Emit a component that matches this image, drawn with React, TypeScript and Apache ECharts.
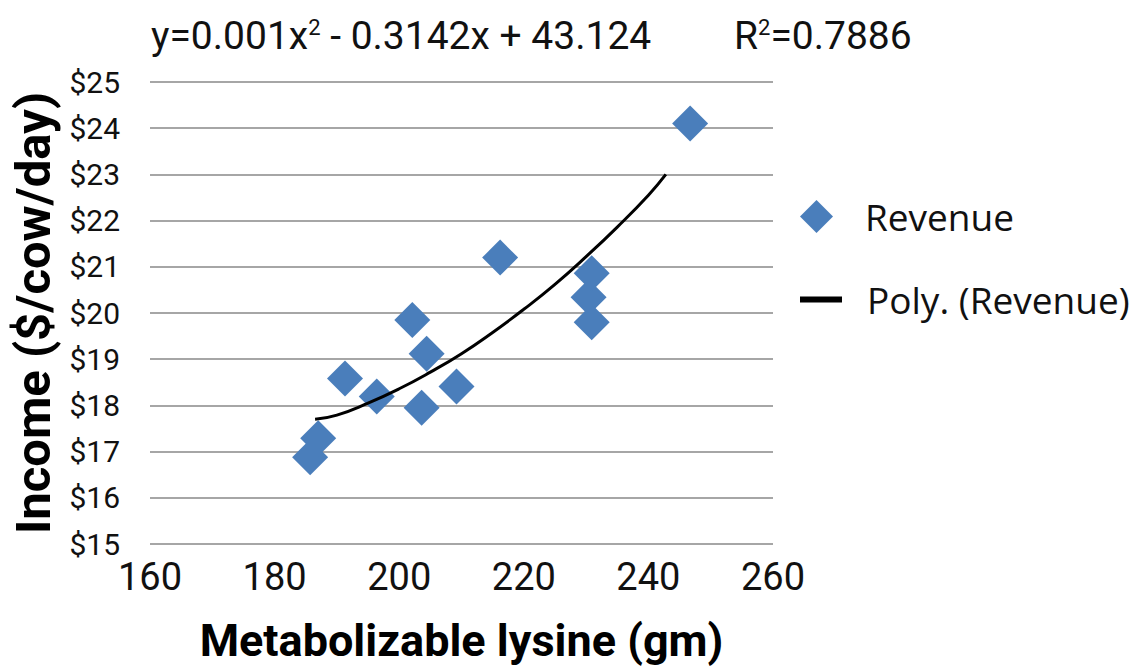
import React, { useEffect, useRef } from "react";
import * as echarts from "echarts";

const lysine = [185.7, 187.0, 191.3, 196.4, 202.1, 203.6, 204.4, 209.2, 216.2, 230.4, 230.9, 230.9, 246.7];
const revenue = [16.88, 17.29, 18.58, 18.19, 19.85, 17.95, 19.12, 18.41, 21.2, 20.34, 20.86, 19.8, 24.1];

const trendX = [186.5, 190, 195, 200, 205, 210, 215, 220, 225, 230, 235, 240, 242.8];
const trendY = [17.7, 17.79, 18.05, 18.36, 18.72, 19.12, 19.58, 20.08, 20.62, 21.22, 21.86, 22.55, 23.0];

const xTicks = { min: 160, max: 260, interval: 20 };
const yTicks = { min: 15, max: 25, interval: 1 };

const narrow = 'Roboto, "Liberation Sans", sans-serif';
const legendFont = '"Open Sans", "Noto Sans", sans-serif';

export default function App() {
  const ref = useRef<HTMLDivElement>(null);
  useEffect(() => {
    if (!ref.current) return;
    const chart = echarts.init(ref.current, undefined, { renderer: "svg" });
    const rich = {
      a: { fontFamily: narrow, fontSize: 39, fontWeight: "normal", color: "#111" },
      s: { fontFamily: narrow, fontSize: 22, fontWeight: "normal", color: "#111", padding: [0, 0, 16, 0] },
    };
    chart.setOption({
      animation: false,
      backgroundColor: "#ffffff",
      title: [
        { text: "{a|y=0.001x}{s|2}{a| - 0.3142x + 43.124}", left: 146, top: 11, textStyle: { rich } },
        { text: "{a|R}{s|2}{a|=0.7886}", left: 729, top: 11, textStyle: { rich } },
      ],
      legend: [
        {
          data: [{ name: "Revenue", icon: "diamond" }],
          left: 795,
          top: 193,
          itemWidth: 33,
          itemHeight: 33,
          textStyle: { fontFamily: legendFont, fontSize: 37, color: "#111", padding: [0, 0, 0, 27] },
        },
        {
          data: [{ name: "Poly. (Revenue)", icon: "path://M0,0H42V6H0Z", itemStyle: { color: "#000" } }],
          left: 795,
          top: 276,
          itemWidth: 42,
          itemHeight: 6,
          lineStyle: { width: 5, color: "#000" },
          textStyle: { fontFamily: legendFont, fontSize: 37, color: "#111", padding: [0, 0, 0, 20] },
        },
      ],
      grid: { left: 150, top: 82, width: 623, height: 462 },
      xAxis: {
        type: "value",
        min: xTicks.min,
        max: xTicks.max,
        interval: xTicks.interval,
        name: "Metabolizable lysine (gm)",
        nameLocation: "middle",
        nameGap: 74,
        nameTextStyle: { fontFamily: narrow, fontSize: 45, fontWeight: "bold", color: "#000" },
        axisLine: { show: false },
        axisTick: { show: false },
        splitLine: { show: false },
        axisLabel: { fontFamily: narrow, fontSize: 38, color: "#111", margin: 14 },
      },
      yAxis: {
        type: "value",
        min: yTicks.min,
        max: yTicks.max,
        interval: yTicks.interval,
        name: "Income ($/cow/day)",
        nameLocation: "middle",
        nameGap: 92,
        nameTextStyle: { fontFamily: narrow, fontSize: 49, fontWeight: "bold", color: "#000" },
        axisLine: { show: false },
        axisTick: { show: false },
        splitLine: { lineStyle: { color: "#a6a6a6", width: 2 } },
        axisLabel: {
          fontFamily: narrow,
          fontSize: 30,
          color: "#111",
          margin: 30,
          padding: [10, 0, 0, 0],
          formatter: (v: number) => "$" + v,
        },
      },
      series: [
        {
          name: "Revenue",
          type: "scatter",
          symbol: "diamond",
          symbolSize: 36,
          itemStyle: { color: "#4a7ebb", opacity: 1 },
          data: lysine.map((x, i) => [x, revenue[i]]),
          z: 2,
        },
        {
          name: "Poly. (Revenue)",
          type: "line",
          smooth: true,
          showSymbol: false,
          symbol: "none",
          lineStyle: { color: "#000", width: 3 },
          itemStyle: { color: "#000" },
          data: trendX.map((x, i) => [x, trendY[i]]),
          z: 3,
        },
      ],
    });
    return () => chart.dispose();
  }, []);
  return <div ref={ref} style={{ position: "fixed", left: 0, top: 0, width: 1138, height: 669 }} />;
}
